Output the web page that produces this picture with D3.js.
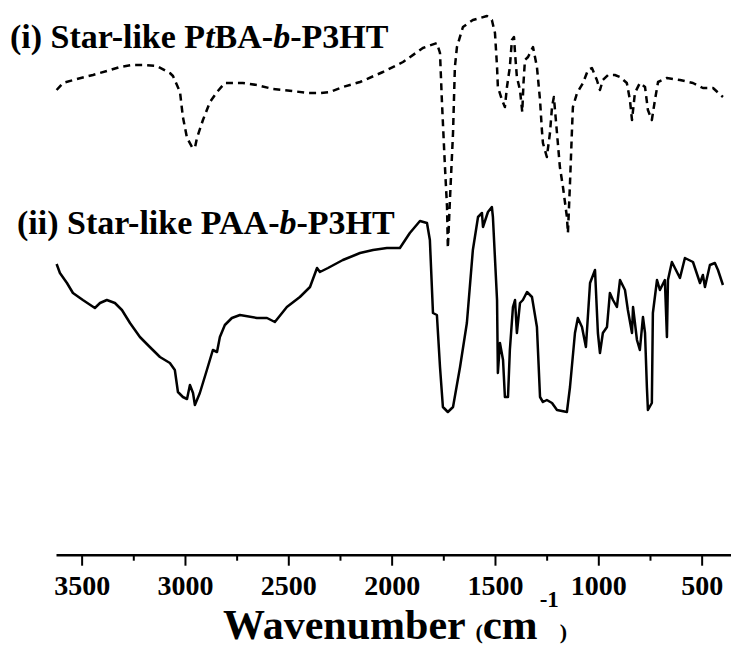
<!DOCTYPE html>
<html>
<head>
<meta charset="utf-8">
<script src="https://cdn.jsdelivr.net/npm/d3@7"></script>
<style>
  body { margin: 0; background: #fff; }
  svg { display: block; }
  text { font-family: "Liberation Serif", "Times New Roman", serif; font-weight: bold; }
</style>
</head>
<body>
<div id="chart"></div>
<script>
// wavenumber (cm-1), transmittance (a.u.)
let spectrumPtBA = [
  [3621,82],[3590,83.4],[3523,84.2],[3445,85],[3378,85.8],[3315,86.6],[3257,87],[3203,87],
  [3136,86.8],[3073,85.4],[3058,84.8],[3024,81.6],[3010,76.6],[2990,72.4],[2966,70.6],[2952,70.4],
  [2942,72.4],[2913,76],[2879,79.6],[2845,81.6],[2807,83.4],[2720,83.4],[2652,83],[2574,82.2],
  [2478,81.8],[2410,81.4],[2347,81.4],[2299,81.6],[2236,82.6],[2153,83.6],[2042,85.6],[1945,87.6],
  [1849,90.4],[1781,91.4],[1766,89.4],[1757,80],[1742,66.6],[1732,58.6],[1728,50.4],[1718,60],
  [1703,73.4],[1694,86.6],[1684,90.6],[1655,94.6],[1607,96],[1539,96.8],[1515,96],[1500,93.4],
  [1490,86.6],[1486,82.6],[1466,80],[1452,78.6],[1442,82.6],[1428,86.6],[1418,92],[1408,92.6],
  [1403,89.4],[1394,84.6],[1379,82],[1368,77.6],[1362,83.4],[1355,88],[1340,88.6],[1316,90.6],
  [1297,86.6],[1282,80],[1273,74],[1268,71.4],[1249,68.6],[1234,73.4],[1224,78.6],[1215,80.6],
  [1200,73.4],[1186,66.6],[1171,62.6],[1152,56.6],[1147,53.4],[1137,63.4],[1128,73.4],[1123,78.6],
  [1103,81.4],[1074,83.4],[1050,86],[1031,86.4],[1007,84],[992,82],[978,84],[953,85],
  [920,85],[895,84.6],[862,83.4],[847,80],[837,76],[823,81.4],[799,83.4],[774,82.6],
  [760,78],[741,76],[726,80],[711,83.6],[668,84.4],[605,84],[542,83.4],[494,82.4],
  [445,82.4],[397,80.6]
];

let spectrumPAA = [
  [3621,47.2],[3605,45.4],[3571,43.4],[3542,41.4],[3494,40],[3436,38.4],[3411,39.4],[3378,40],
  [3339,39.4],[3305,38],[3266,35.4],[3218,32.6],[3170,30.6],[3121,28.6],[3073,27.4],[3049,26],
  [3034,21.6],[3010,20.6],[2990,20.2],[2976,23],[2961,21.4],[2952,19],[2928,21.4],[2894,26],
  [2865,30],[2845,29.6],[2831,32.6],[2807,35],[2773,36.4],[2734,37],[2652,36.4],[2603,36.4],
  [2565,35.6],[2507,38.6],[2444,40.6],[2395,42.6],[2361,46.4],[2347,45.6],[2308,46.4],[2236,48],
  [2153,49.4],[2090,50],[2023,50.4],[1960,50.4],[1912,53.4],[1863,55.8],[1829,55.4],[1815,52],
  [1800,37.4],[1781,37],[1766,26.6],[1752,18.6],[1728,17.6],[1703,18.6],[1669,26.6],[1636,35.4],
  [1607,50],[1582,56.6],[1563,57.4],[1558,54.6],[1534,57.6],[1515,58.6],[1510,56.6],[1490,40],
  [1486,25.4],[1476,31.4],[1461,28],[1452,20.6],[1437,20.6],[1428,30],[1413,38.6],[1403,40],
  [1394,33.4],[1379,39.4],[1365,40],[1345,41.6],[1321,40.6],[1297,34.6],[1282,20.6],[1268,19.6],
  [1249,20],[1224,19.4],[1200,18],[1152,17.6],[1137,22.6],[1113,33.4],[1099,36.4],[1079,34.6],
  [1060,30.6],[1040,43.4],[1016,46],[1002,33.4],[992,29.4],[978,33.4],[958,34.6],[944,41.4],
  [929,40],[910,38.6],[895,44],[871,42],[857,38],[837,33.4],[832,38.6],[813,32],
  [799,30],[784,36.6],[774,33.4],[765,22.6],[760,18],[741,19.4],[736,37.4],[716,44],
  [702,42],[678,44],[668,32.6],[663,44],[644,47.6],[605,44.4],[581,48.4],[542,47.6],
  [508,43.4],[494,45],[484,42.6],[460,47],[436,47.4],[421,46],[397,43]
];

let majorTicks = [3500, 3000, 2500, 2000, 1500, 1000, 500];
let minorTicks = [3250, 2750, 2250, 1750, 1250, 750];

let svgWidth = 731;
let svgHeight = 648;
let axisY = 554.7;

let svg = d3.select("#chart")
  .append("svg")
  .attr("width", svgWidth)
  .attr("height", svgHeight);

let x = d3.scaleLinear().domain([3624, 358]).range([56, 731]);
let y = d3.scaleLinear().domain([0, 100]).range([500, 0]);

let line = d3.line()
  .x(d => x(d[0]))
  .y(d => y(d[1]));

// (i) dashed spectrum
svg.append("path")
  .datum(spectrumPtBA)
  .attr("d", line)
  .attr("fill", "none")
  .attr("stroke", "#000")
  .attr("stroke-width", 2.5)
  .attr("stroke-dasharray", "7,5")
  .attr("stroke-linejoin", "round");

// (ii) solid spectrum
svg.append("path")
  .datum(spectrumPAA)
  .attr("d", line)
  .attr("fill", "none")
  .attr("stroke", "#000")
  .attr("stroke-width", 2.5)
  .attr("stroke-linejoin", "round");

// minor ticks
svg.append("g")
  .attr("transform", "translate(0," + axisY + ")")
  .call(d3.axisBottom(x).tickValues(minorTicks).tickSize(6).tickFormat(""))
  .call(g => g.select(".domain").remove())
  .selectAll("line").attr("stroke-width", 2);

// major ticks + labels
let xAxis = svg.append("g")
  .attr("transform", "translate(0," + axisY + ")")
  .call(d3.axisBottom(x).tickValues(majorTicks).tickSize(11).tickSizeOuter(0).tickFormat(d3.format("d")));

xAxis.select(".domain").attr("stroke-width", 2.6);
xAxis.selectAll(".tick line").attr("stroke-width", 2);
xAxis.selectAll(".tick text")
  .attr("y", 40.5)
  .attr("dy", 0)
  .attr("font-size", 28)
  .attr("font-family", "Liberation Serif, Times New Roman, serif")
  .attr("font-weight", "bold")
  .attr("fill", "#000");

// axis title
let title = svg.append("text")
  .attr("x", 223)
  .attr("y", 639)
  .attr("fill", "#000");
title.append("tspan").attr("font-size", 42).text("Wavenumber ");
title.append("tspan").attr("font-size", 22).text("(");
title.append("tspan").attr("font-size", 43).text("cm");
title.append("tspan").attr("font-size", 23).attr("dx", 2).attr("dy", -32).text("-1");
title.append("tspan").attr("font-size", 22).attr("dx", 1).attr("dy", 32).text(")");

// series labels
let lab1 = svg.append("text").attr("x", 10).attr("y", 48).attr("font-size", 34).attr("fill", "#000");
lab1.append("tspan").text("(i) Star-like P");
lab1.append("tspan").attr("font-style", "italic").text("t");
lab1.append("tspan").text("BA-");
lab1.append("tspan").attr("font-style", "italic").text("b");
lab1.append("tspan").text("-P3HT");

let lab2 = svg.append("text").attr("x", 17).attr("y", 234).attr("font-size", 34).attr("fill", "#000");
lab2.append("tspan").text("(ii) Star-like PAA-");
lab2.append("tspan").attr("font-style", "italic").text("b");
lab2.append("tspan").text("-P3HT");
</script>
</body>
</html>
